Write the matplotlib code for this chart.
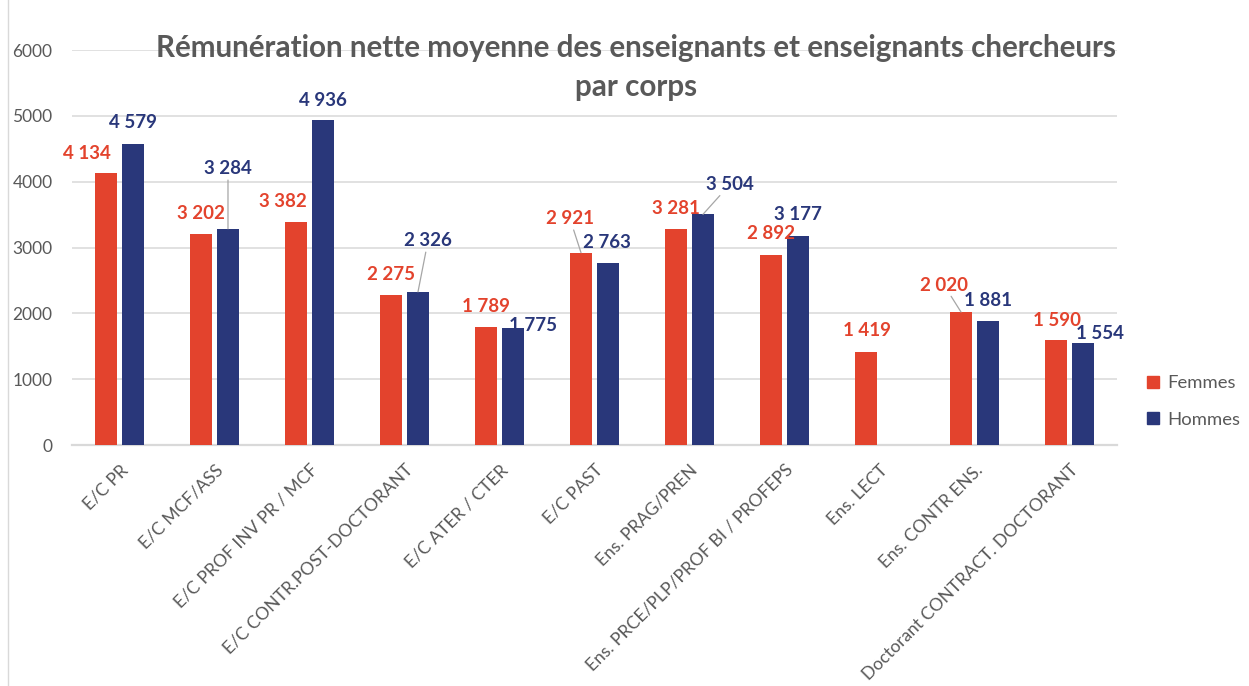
import numpy as np
import matplotlib
matplotlib.use("Agg")
import matplotlib.pyplot as plt
from matplotlib.lines import Line2D

# --- data -------------------------------------------------------------
categories = [
    "E/C PR",
    "E/C MCF/ASS",
    "E/C PROF INV PR / MCF",
    "E/C CONTR.POST-DOCTORANT",
    "E/C ATER / CTER",
    "E/C PAST",
    "Ens. PRAG/PREN",
    "Ens. PRCE/PLP/PROF BI / PROFEPS",
    "Ens. LECT",
    "Ens. CONTR ENS.",
    "Doctorant CONTRACT. DOCTORANT",
]
femmes = [4134, 3202, 3382, 2275, 1789, 2921, 3281, 2892, 1419, 2020, 1590]
hommes = [4579, 3284, 4936, 2326, 1775, 2763, 3504, 3177, np.nan, 1881, 1554]
series_names = ["Femmes", "Hommes"]
yticks = [0, 1000, 2000, 3000, 4000, 5000, 6000]
title_lines = ["Rémunération nette moyenne des enseignants et enseignants chercheurs",
               "par corps"]

# label placement (pixel offsets from the top of each bar, and leader lines)
femmes_offsets = [(-19, 19), (0, 21), (-13, 21), (0, 21), (0, 21), (-11, 34),
                  (0, 21), (0, 21), (1, 21), (-17, 27), (1, 20)]
femmes_leader = [False, False, False, False, False, True,
                 False, False, False, True, False]
hommes_offsets = [(0, 21), (0, 60), (0, 20), (10, 51), (20, 3), (-1, 21),
                  (27, 30), (0, 21), (0, 21), (0, 21), (17, 9)]
hommes_leader = [False, True, False, True, False, False,
                 True, False, False, False, False]

# --- style ------------------------------------------------------------
RED = "#E3432D"
NAVY = "#29377A"
GRAY_TXT = "#595959"
GRID = "#D9D9D9"
FONT = "Lato"

plt.rcParams["font.family"] = [FONT, "DejaVu Sans"]

fig = plt.figure(figsize=(12.49, 6.86), dpi=100)
W, H = 1249, 686
ax = fig.add_axes([72 / W, 1 - 445 / H, (1117 - 72) / W, (445 - 50) / H])

x = np.arange(len(categories))
bw = 0.226
off = 0.142
bars_f = ax.bar(x - off, femmes, width=bw, color=RED, zorder=3)
bars_h = ax.bar(x + off, hommes, width=bw, color=NAVY, zorder=3)

ax.set_xlim(-0.5, len(categories) - 0.5)
ax.set_ylim(0, 6000)
ax.set_yticks(yticks)
ax.set_yticklabels([str(t) for t in yticks], fontsize=12.5, color=GRAY_TXT)
ax.yaxis.grid(True, color=GRID, linewidth=1.1, zorder=0)
ax.set_axisbelow(True)
for side in ("left", "right", "top"):
    ax.spines[side].set_visible(False)
ax.spines["bottom"].set_color(GRID)
ax.spines["bottom"].set_linewidth(1.6)
ax.tick_params(axis="y", length=0, pad=14)
ax.tick_params(axis="x", length=0, pad=12)
ax.set_xticks(x)
ax.set_xticklabels(categories, rotation=45, ha="right", va="top",
                   rotation_mode="anchor", fontsize=12.6, color=GRAY_TXT)


def fmt(v):
    return f"{int(v):,}".replace(",", " ")


def label_bars(bars, values, offsets, leaders, color):
    for rect, v, (dx, dy), lead in zip(bars, values, offsets, leaders):
        if np.isnan(v):
            continue
        xc = rect.get_x() + rect.get_width() / 2
        kw = {}
        if lead:
            kw["arrowprops"] = dict(arrowstyle="-", color="#A6A6A6", lw=0.9,
                                    shrinkA=0, shrinkB=0)
        ax.annotate(fmt(v), xy=(xc, v), xytext=(dx, dy),
                    textcoords="offset pixels", ha="center", va="center",
                    fontsize=13.5, fontweight="bold", color=color,
                    zorder=5, **kw)


label_bars(bars_f, femmes, femmes_offsets, femmes_leader, RED)
label_bars(bars_h, hommes, hommes_offsets, hommes_leader, NAVY)

# title, two centred lines
for line, ypix in zip(title_lines, (48, 87)):
    fig.text(636 / W, 1 - ypix / H, line, ha="center", va="center",
             fontsize=21.3, fontweight="bold", color=GRAY_TXT)

# legend
handles = [Line2D([], [], marker="s", linestyle="", markersize=8, color=c)
           for c in (RED, NAVY)]
fig.legend(handles, series_names, loc="center left",
           bbox_to_anchor=(1146 / W, 1 - 401.5 / H), frameon=False,
           fontsize=13.3, labelcolor=GRAY_TXT, handlelength=0.8,
           handletextpad=0.35, labelspacing=1.1, borderpad=0,
           borderaxespad=0)

# chart-area left border
fig.add_artist(Line2D([8 / W, 8 / W], [0, 1], transform=fig.transFigure,
                      color=GRID, linewidth=1.0))

fig.savefig("out.png", dpi=100)
